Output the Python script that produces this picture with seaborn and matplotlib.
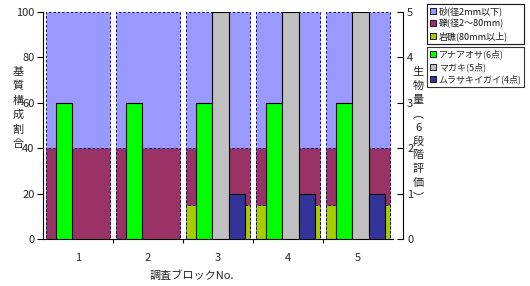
import matplotlib
matplotlib.use("Agg")
import matplotlib.pyplot as plt
import seaborn as sns
import pandas as pd
import numpy as np
from matplotlib.patches import Patch

sns.set_theme(style="white")
plt.rcParams['font.family'] = ['Noto Sans CJK JP', 'DejaVu Sans']

blocks = ["1", "2", "3", "4", "5"]
sand = [60, 60, 60, 60, 60]
gravel = [40, 40, 25, 25, 25]
rock = [0, 0, 15, 15, 15]
substrate_labels = ["砂(径2mm以下)", "礫(径2～80mm)", "岩礁(80mm以上)"]

bio_species = ["アナアオサ(6点)", "マガキ(5点)", "ムラサキイガイ(4点)"]
anaaosa = [3, 3, 3, 3, 3]
magaki = [np.nan, np.nan, 5, 5, 5]
murasaki = [np.nan, np.nan, 1, 1, 1]

left_title = "基質構成割合"
right_title = "生物量︵6段階評価︶"
x_title = "調査ブロックNo."

c_sand, c_gravel, c_rock = "#9999FF", "#993366", "#A6CC00"
c_green, c_gray, c_navy = "#00FF00", "#C0C0C0", "#333399"

W, H = 530, 286
fig = plt.figure(figsize=(W / 100, H / 100), dpi=100)
ax = fig.add_axes([0.081, 0.164, 0.661, 0.794])

sub = pd.DataFrame({"block": blocks, "sand": sand, "gravel": gravel, "rock": rock})
sub["c_rock"] = sub["rock"]
sub["c_gravel"] = sub["rock"] + sub["gravel"]
sub["c_sand"] = sub["c_gravel"] + sub["sand"]

for col, color in [("c_sand", c_sand), ("c_gravel", c_gravel), ("c_rock", c_rock)]:
    sns.barplot(data=sub, x="block", y=col, color=color, width=0.92, ax=ax,
                edgecolor="#000060", linewidth=0.7, linestyle=(0, (2.5, 2)),
                saturation=1, errorbar=None)

ax.set_xlim(-0.5, 4.5)
ax.set_ylim(0, 100)
ax.set_yticks([0, 20, 40, 60, 80, 100])
ax.set_ylabel("")
ax.set_xlabel("")
for s in ["top", "right"]:
    ax.spines[s].set_visible(False)
ax.spines["left"].set_color("black")
ax.spines["left"].set_linewidth(0.8)
ax.spines["bottom"].set_color("black")
ax.spines["bottom"].set_linewidth(0.8)
ax.tick_params(axis="y", direction="out", length=4, width=0.8, color="black",
               labelsize=8, pad=2, left=True)
ax.set_xticks(range(5))
ax.set_xticklabels(blocks)
ax.set_xticks([0.5, 1.5, 2.5, 3.5], minor=True)
ax.tick_params(axis="x", which="major", length=0, labelsize=8, pad=10)
ax.tick_params(axis="x", which="minor", direction="out", length=3, width=0.8,
               color="black", bottom=True)

ax2 = ax.twinx()
bio = pd.DataFrame({
    "block": blocks * 3,
    "species": [bio_species[0]] * 5 + [bio_species[1]] * 5 + [bio_species[2]] * 5,
    "value": anaaosa + magaki + murasaki,
})
sns.barplot(data=bio, x="block", y="value", hue="species", hue_order=bio_species,
            palette=[c_green, c_gray, c_navy], width=0.705, dodge=True, ax=ax2,
            edgecolor="black", linewidth=0.8, saturation=1, errorbar=None,
            legend=False)
for p in ax2.patches:
    p.set_x(p.get_x() + 0.035)
ax2.set_xlim(-0.5, 4.5)
ax2.set_ylim(0, 5)
ax2.set_yticks(range(6))
ax2.set_ylabel("")
ax2.set_xlabel("")
for s in ["top", "left", "bottom"]:
    ax2.spines[s].set_visible(False)
ax2.spines["right"].set_position(("outward", 7))
ax2.spines["right"].set_color("black")
ax2.spines["right"].set_linewidth(0.8)
ax2.tick_params(axis="y", direction="in", length=4, width=0.8, color="black",
                labelsize=8, pad=3, right=True)


def vertical_text(text, x_px, y0_px, pitch_px, size=8):
    for i, ch in enumerate(text):
        fig.text(x_px / W, 1 - (y0_px + i * pitch_px) / H, ch,
                 ha="center", va="center", fontsize=size)


vertical_text(left_title, 18, 72, 14.4)
vertical_text(right_title, 418, 72, 13.9)
fig.text(192 / W, 1 - 275 / H, x_title, ha="center", va="center", fontsize=8)

common = dict(loc="upper left", fontsize=6.5, frameon=True, fancybox=False,
              edgecolor="black", handlelength=0.7, handleheight=0.7,
              handletextpad=0.3, borderpad=0.3, labelspacing=0.3,
              borderaxespad=0, mode="expand")
leg_w = 97 / W
leg1 = fig.legend(handles=[Patch(facecolor=c, edgecolor="black", linewidth=0.6)
                           for c in (c_sand, c_gravel, c_rock)],
                  labels=substrate_labels,
                  bbox_to_anchor=(427 / W, 1 - 4 / H - 0.01, leg_w, 0.01),
                  **common)
leg1.get_frame().set_linewidth(0.8)
leg2 = fig.legend(handles=[Patch(facecolor=c, edgecolor="black", linewidth=0.6)
                           for c in (c_green, c_gray, c_navy)],
                  labels=bio_species,
                  bbox_to_anchor=(427 / W, 1 - 47 / H - 0.01, leg_w, 0.01),
                  **common)
leg2.get_frame().set_linewidth(0.8)
fig.add_artist(leg1)

fig.savefig("out.png", dpi=100)
